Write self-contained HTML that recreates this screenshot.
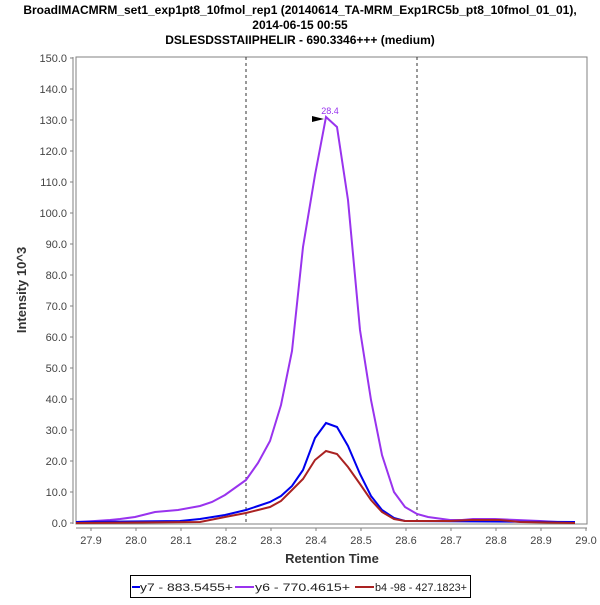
<!DOCTYPE html><html><head><style>body{margin:0;background:#fff}</style></head><body>
<svg width="600" height="600" xmlns="http://www.w3.org/2000/svg" font-family="Liberation Sans, sans-serif">
<rect width="600" height="600" fill="#fff"/>
<g font-weight="bold" font-size="12" text-anchor="middle" fill="#000">
<text x="300" y="14">BroadIMACMRM_set1_exp1pt8_10fmol_rep1 (20140614_TA-MRM_Exp1RC5b_pt8_10fmol_01_01),</text>
<text x="300" y="29">2014-06-15 00:55</text>
<text x="300" y="44">DSLESDSSTAIIPHELIR - 690.3346+++ (medium)</text>
</g>
<rect x="76" y="57" width="511" height="467" fill="#fff" stroke="#808080"/>
<line x1="73" y1="57" x2="73" y2="524" stroke="#808080"/>
<line x1="76" y1="528" x2="587" y2="528" stroke="#808080"/>
<g font-size="11" fill="#444" text-anchor="end" id="yl"></g>
<g font-size="11" fill="#444" text-anchor="middle" id="xl"></g>
<line x1="246" y1="57" x2="246" y2="524" stroke="#333" stroke-dasharray="3,3"/>
<line x1="417" y1="57" x2="417" y2="524" stroke="#333" stroke-dasharray="3,3"/>
<polyline fill="none" stroke="#9933ee" stroke-width="2" points="76,522 95,521 110,520 120,519 135,517 155,512 178,510 200,506 212,502 225,495 246,480 258,463 270,441 281,405 292,351 303,247 315,175 326,117 337,127 348,200 360,330 371,400 382,455 394,492 405,507 417,514 428,517 450,520 462,520 473,519 495,519 517,520 540,521 575,523"/>
<polyline fill="none" stroke="#0000ee" stroke-width="2" points="76,522 180,521 200,519 225,515 246,510 258,506 270,502 281,496 292,486 303,470 315,438 326,423 337,427 348,446 360,474 371,496 382,510 394,518 405,521 575,522"/>
<polyline fill="none" stroke="#aa2222" stroke-width="2" points="76,523 200,522 225,517 246,513 258,510 270,507 281,501 292,490 303,479 315,460 326,451 337,454 348,467 360,484 371,500 382,512 394,519 405,521 450,521 470,520 500,520 520,522 575,523"/>
<polygon points="312,116 324,119 312,122" fill="#000"/>
<text x="330" y="114" font-size="9" fill="#9933ee" text-anchor="middle">28.4</text>
<text x="332" y="563" font-size="13" font-weight="bold" text-anchor="middle" fill="#333">Retention Time</text>
<text transform="translate(26,290) rotate(-90)" font-size="13" font-weight="bold" text-anchor="middle" fill="#333">Intensity 10^3</text>
<rect x="130.5" y="575.5" width="340" height="22" fill="#fff" stroke="#000"/>
<g font-size="11" fill="#222">
<line x1="132" y1="587" x2="140" y2="587" stroke="#0000ee" stroke-width="2"/><text x="140" y="591" textLength="93" lengthAdjust="spacingAndGlyphs">y7 - 883.5455+</text>
<line x1="235" y1="587" x2="254" y2="587" stroke="#9933ee" stroke-width="2"/><text x="255" y="591" textLength="95" lengthAdjust="spacingAndGlyphs">y6 - 770.4615+</text>
<line x1="355" y1="587" x2="374" y2="587" stroke="#aa2222" stroke-width="2"/><text x="375" y="591" textLength="92" lengthAdjust="spacingAndGlyphs">b4 -98 - 427.1823+</text>
</g>
<g id="t"></g>
</svg>
<script>
var ns="http://www.w3.org/2000/svg",yl=document.getElementById('yl'),xl=document.getElementById('xl'),t=document.getElementById('t');
function el(n,a,p,txt){var e=document.createElementNS(ns,n);for(var k in a)e.setAttribute(k,a[k]);if(txt)e.textContent=txt;p.appendChild(e);}
for(var i=0;i<=15;i++){var y=523-i*31;el('text',{x:67,y:y+4},yl,(i*10).toFixed(1));el('line',{x1:70,y1:y,x2:73,y2:y,stroke:'#808080'},t);}
for(var i=0;i<=11;i++){var x=91+i*45;el('text',{x:x,y:544},xl,(27.9+i*0.1).toFixed(1));el('line',{x1:x,y1:528,x2:x,y2:531,stroke:'#808080'},t);}
</script>
</body></html>
